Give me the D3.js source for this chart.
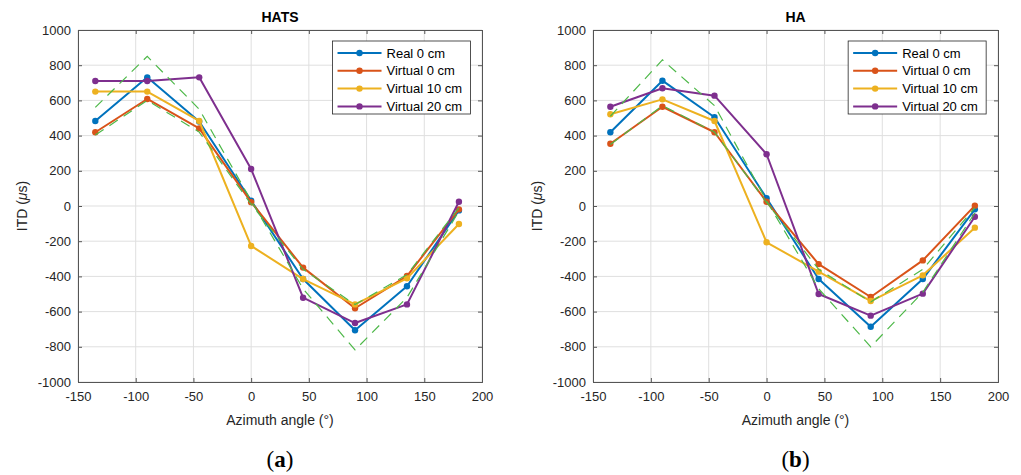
<!DOCTYPE html>
<html>
<head>
<meta charset="utf-8">
<script src="https://cdn.jsdelivr.net/npm/d3@7"></script>
<style>
  body { margin: 0; background: #fff; }
  svg { display: block; font-family: "Liberation Sans", Arial, sans-serif; }
  .tick text { fill: #262626; font-size: 13px; }
</style>
</head>
<body>
<svg id="chart" width="1021" height="475"></svg>
<script>
// azimuths and tick values
const azimuth = [-135, -90, -45, 0, 45, 90, 135, 180];
const xTicks = [-150, -100, -50, 0, 50, 100, 150, 200];
const yTicks = [-1000, -800, -600, -400, -200, 0, 200, 400, 600, 800, 1000];
const seriesNames = ['Real 0 cm', 'Virtual 0 cm', 'Virtual 10 cm', 'Virtual 20 cm'];
const seriesColors = ['#0072BD', '#D95319', '#EDB120', '#7E2F8E'];

// HATS (a)
const hatsReal0 = [483, 731, 480, 30, -415, -706, -456, -25];
const hatsVirtual0 = [419, 608, 441, 22, -350, -581, -398, -19];
const hatsVirtual10 = [650, 650, 483, -227, -415, -559, -411, -102];
const hatsVirtual20 = [710, 710, 731, 210, -521, -665, -559, 24];
const hatsModelOuter = [560, 850, 550, 30, -470, -818, -520, -30];
const hatsModelInner = [403, 600, 420, 10, -360, -560, -390, -10];

// HA (b)
const haReal0 = [419, 712, 504, 44, -415, -686, -415, -19];
const haVirtual0 = [354, 564, 419, 24, -330, -517, -309, 2];
const haVirtual10 = [521, 606, 483, -206, -373, -540, -394, -123];
const haVirtual20 = [564, 669, 627, 294, -500, -623, -498, -61];
const haModelOuter = [510, 830, 570, 30, -470, -800, -490, -40];
const haModelInner = [350, 570, 420, 20, -360, -545, -360, -10];

const svg = d3.select('#chart');

function drawPanel(opts) {
    const { left, top, width, height, title, tag, series, models } = opts;

    const x = d3.scaleLinear().domain([-150, 200]).range([left, left + width]);
    const y = d3.scaleLinear().domain([-1000, 1000]).range([top + height, top]);

    const g = svg.append('g');

    // grid
    g.append('g')
        .selectAll('line')
        .data(xTicks)
        .join('line')
        .attr('x1', (d) => x(d)).attr('x2', (d) => x(d))
        .attr('y1', top).attr('y2', top + height)
        .attr('stroke', '#dfdfdf');
    g.append('g')
        .selectAll('line')
        .data(yTicks)
        .join('line')
        .attr('y1', (d) => y(d)).attr('y2', (d) => y(d))
        .attr('x1', left).attr('x2', left + width)
        .attr('stroke', '#dfdfdf');

    // axes, ticks pointing inward on all four sides
    const xAxis = g.append('g')
        .attr('transform', `translate(0, ${top + height})`)
        .call(d3.axisBottom(x).tickValues(xTicks).tickSize(-4).tickPadding(10).tickFormat((d) => String(d)));
    const xTop = g.append('g')
        .attr('transform', `translate(0, ${top})`)
        .call(d3.axisTop(x).tickValues(xTicks).tickSize(-4).tickFormat(''));
    const yAxis = g.append('g')
        .attr('transform', `translate(${left}, 0)`)
        .call(d3.axisLeft(y).tickValues(yTicks).tickSize(-4).tickPadding(7).tickFormat((d) => String(d)));
    const yRight = g.append('g')
        .attr('transform', `translate(${left + width}, 0)`)
        .call(d3.axisRight(y).tickValues(yTicks).tickSize(-4).tickFormat(''));

    [xAxis, xTop, yAxis, yRight].forEach((a) => {
        a.select('.domain').attr('stroke', '#555');
        a.selectAll('.tick line').attr('stroke', '#555');
    });

    // data lines
    const line = d3.line().x((d, i) => x(azimuth[i])).y((d) => y(d));

    series.forEach((vals, k) => {
        g.append('path')
            .datum(vals)
            .attr('d', line)
            .attr('fill', 'none')
            .attr('stroke', seriesColors[k])
            .attr('stroke-width', 2)
            .attr('stroke-linejoin', 'round');
        g.append('g')
            .selectAll('circle')
            .data(vals)
            .join('circle')
            .attr('cx', (d, i) => x(azimuth[i]))
            .attr('cy', (d) => y(d))
            .attr('r', 3.2)
            .attr('fill', seriesColors[k]);
    });

    models.forEach((vals) => {
        g.append('path')
            .datum(vals)
            .attr('d', line)
            .attr('fill', 'none')
            .attr('stroke', '#4DB848')
            .attr('stroke-width', 1.2)
            .attr('stroke-dasharray', '10,7');
    });

    // title
    g.append('text')
        .attr('x', left + width / 2)
        .attr('y', top - 8)
        .attr('text-anchor', 'middle')
        .attr('font-weight', 'bold')
        .attr('font-size', 14)
        .attr('fill', '#000')
        .text(title);

    // axis labels
    g.append('text')
        .attr('x', left + width / 2)
        .attr('y', top + height + 43)
        .attr('text-anchor', 'middle')
        .attr('font-size', 14)
        .attr('fill', '#262626')
        .text('Azimuth angle (°)');

    const yl = g.append('text')
        .attr('transform', `translate(${left - 51}, ${top + height / 2}) rotate(-90)`)
        .attr('text-anchor', 'middle')
        .attr('font-size', 14)
        .attr('fill', '#262626');
    yl.append('tspan').text('ITD (');
    yl.append('tspan').attr('font-style', 'italic').text('μ');
    yl.append('tspan').text('s)');

    // legend
    const lx = x(-150) + width * 0.63;
    const lg = g.append('g').attr('transform', `translate(${lx}, ${top + 11})`);
    lg.append('rect')
        .attr('width', 138).attr('height', 73)
        .attr('fill', '#fff').attr('stroke', '#262626').attr('stroke-width', 0.8);
    seriesNames.forEach((name, k) => {
        const ry = 12 + k * 17.8;
        lg.append('line')
            .attr('x1', 5).attr('x2', 49).attr('y1', ry).attr('y2', ry)
            .attr('stroke', seriesColors[k]).attr('stroke-width', 2);
        lg.append('circle').attr('cx', 27).attr('cy', ry).attr('r', 3.2).attr('fill', seriesColors[k]);
        lg.append('text')
            .attr('x', 54).attr('y', ry + 4.5)
            .attr('font-size', 13).attr('fill', '#000')
            .text(name);
    });

    // panel tag
    const tg = svg.append('text')
        .attr('x', left + width / 2)
        .attr('y', 467)
        .attr('text-anchor', 'middle')
        .attr('font-family', '"Liberation Serif", "DejaVu Serif", serif')
        .attr('font-size', 23)
        .attr('fill', '#000');
    tg.append('tspan').text('(');
    tg.append('tspan').attr('font-weight', 'bold').text(tag);
    tg.append('tspan').text(')');
}

drawPanel({
    left: 78, top: 30, width: 404, height: 352,
    title: 'HATS', tag: 'a',
    series: [hatsReal0, hatsVirtual0, hatsVirtual10, hatsVirtual20],
    models: [hatsModelOuter, hatsModelInner]
});

drawPanel({
    left: 593, top: 30, width: 405, height: 352,
    title: 'HA', tag: 'b',
    series: [haReal0, haVirtual0, haVirtual10, haVirtual20],
    models: [haModelOuter, haModelInner]
});
</script>
</body>
</html>
